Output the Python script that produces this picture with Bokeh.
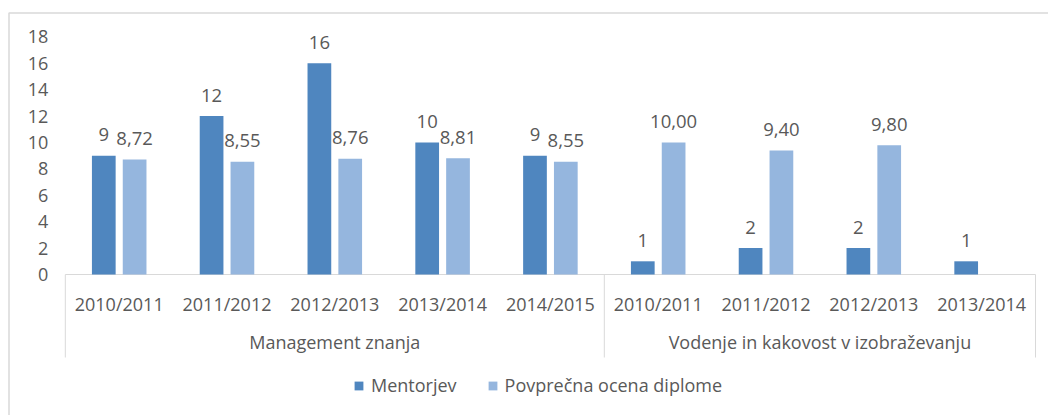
import numpy as np
from bokeh.plotting import figure
from bokeh.models import ColumnDataSource, Range1d, Legend, LegendItem
from bokeh.core.properties import value
from bokeh.transform import dodge
from bokeh.embed import file_html
from bokeh.resources import INLINE

# ---- data ----
groups = ["Management znanja", "Vodenje in kakovost v izobraževanju"]
group_sizes = [5, 4]
years = ["2010/2011", "2011/2012", "2012/2013", "2013/2014", "2014/2015",
         "2010/2011", "2011/2012", "2012/2013", "2013/2014"]
mentorjev = [9, 12, 16, 10, 9, 1, 2, 2, 1]
ocena = [8.72, 8.55, 8.76, 8.81, 8.55, 10.00, 9.40, 9.80, None]
series_names = ["Mentorjev", "Povprečna ocena diplome"]
y_ticks = [0, 2, 4, 6, 8, 10, 12, 14, 16, 18]

# ---- style / layout ----
FONT = "Open Sans"
TEXT = "#595959"
LINE = "#d9d9d9"
DARK = "#4f86bf"
LIGHT = "#95b6de"
W, H = 1048, 415            # canvas size
CAT_PX = 107.8              # pixels per category
UNIT_PX = 13.2              # pixels per y unit
X0_PX = 64.8                # canvas x of category axis start
Y0_PX = 274                 # canvas y of value 0
BAR_W = 0.22
OFF = 0.143

x_start = -X0_PX / CAT_PX
x_end = (W - X0_PX) / CAT_PX
y_end = Y0_PX / UNIT_PX
y_start = -(H - Y0_PX) / UNIT_PX
sep_bottom = -(357 - Y0_PX) / UNIT_PX
border_x = (8.5 - X0_PX) / CAT_PX
border_y = (Y0_PX - 12.5) / UNIT_PX

n = len(years)
xc = np.arange(n) + 0.5

m_src = ColumnDataSource(dict(x=xc, top=mentorjev, lbl=[str(v) for v in mentorjev]))
o_idx = [i for i, v in enumerate(ocena) if v is not None]
o_src = ColumnDataSource(dict(
    x=xc[o_idx], top=[ocena[i] for i in o_idx],
    lbl=[f"{ocena[i]:.2f}".replace(".", ",") for i in o_idx]))
yr_src = ColumnDataSource(dict(x=xc, y=[0] * n, t=years))
tick_src = ColumnDataSource(dict(x=[0] * len(y_ticks), y=y_ticks, t=[str(t) for t in y_ticks]))

bounds = np.concatenate([[0], np.cumsum(group_sizes)])
g_src = ColumnDataSource(dict(x=(bounds[:-1] + bounds[1:]) / 2, y=[0] * len(groups), t=groups))
sep_src = ColumnDataSource(dict(x=bounds, y0=[0] * len(bounds), y1=[sep_bottom] * len(bounds)))

p = figure(width=W, height=H, x_range=Range1d(x_start, x_end), y_range=Range1d(y_start, y_end),
           x_axis_type=None, y_axis_type=None, output_backend="svg", toolbar_location=None,
           min_border=0)
p.outline_line_color = None
p.xgrid.visible = False
p.ygrid.visible = False

# chart frame (top and left edges)
p.line(x=[border_x, border_x, x_end + 1], y=[y_start - 1, border_y, border_y],
       line_color=LINE, line_width=1.5)

# category axis line and separators
p.segment(x0=0, x1=n, y0=0, y1=0, line_color=LINE, line_width=1)
p.segment(x0="x", x1="x", y0="y0", y1="y1", source=sep_src, line_color=LINE, line_width=1)

r1 = p.vbar(x=dodge("x", -OFF), top="top", bottom=0, width=BAR_W, source=m_src,
            fill_color=DARK, line_color=None)
r2 = p.vbar(x=dodge("x", OFF), top="top", bottom=0, width=BAR_W, source=o_src,
            fill_color=LIGHT, line_color=None)

lbl_kw = dict(text_font=value(FONT), text_font_size="18.5px", text_color=TEXT,
              text_align="center", text_baseline="middle")
p.text(x=dodge("x", -OFF), y="top", text="lbl", source=m_src, y_offset=-21, **lbl_kw)
p.text(x=dodge("x", OFF), y="top", text="lbl", source=o_src, y_offset=-21, **lbl_kw)

ax_kw = dict(text_font=value(FONT), text_font_size="18px", text_color=TEXT,
             text_baseline="middle")
p.text(x="x", y="y", text="t", source=tick_src, x_offset=-17, text_align="right", **ax_kw)
p.text(x="x", y="y", text="t", source=yr_src, y_offset=29, text_align="center", **ax_kw)
p.text(x="x", y="y", text="t", source=g_src, y_offset=67, text_align="center", **ax_kw)

legend = Legend(items=[LegendItem(label=series_names[0], renderers=[r1]),
                       LegendItem(label=series_names[1], renderers=[r2])],
                orientation="horizontal", location=(353, 17.6),
                label_text_font=FONT, label_text_font_size="18px", label_text_color=TEXT,
                glyph_width=11, glyph_height=11, label_standoff=7, spacing=30,
                padding=0, margin=0, border_line_color=None, background_fill_color=None,
                label_height=20)
p.add_layout(legend)

open("out.html", "w").write(file_html(p, INLINE))
